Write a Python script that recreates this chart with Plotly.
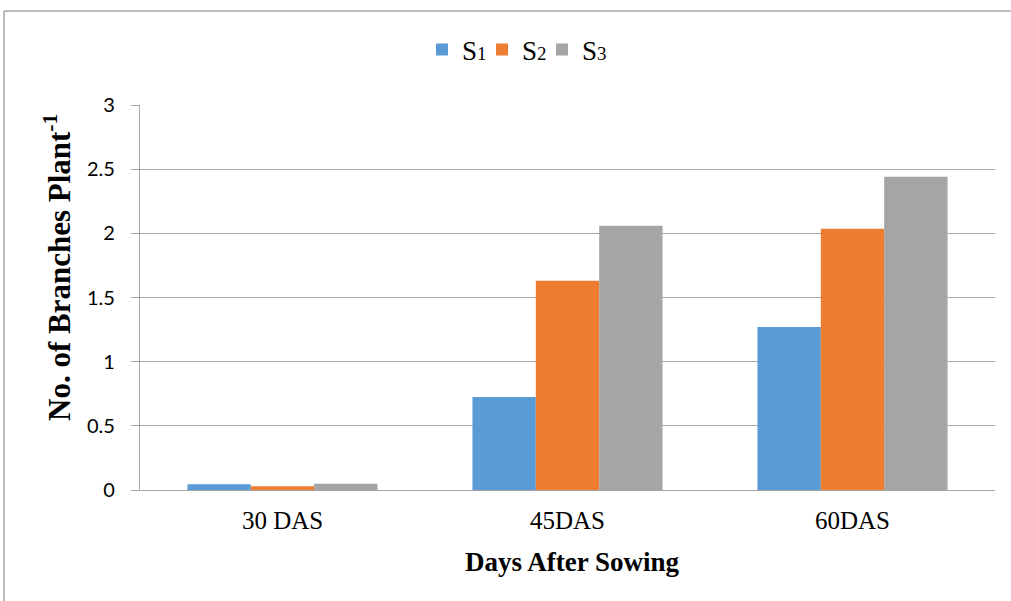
import plotly.graph_objects as go

categories = ["30 DAS", "45DAS", "60DAS"]
s1 = [0.045, 0.725, 1.27]
s2 = [0.03, 1.63, 2.035]
s3 = [0.048, 2.06, 2.44]
series_names = ["S<span style='font-size:19px'>1</span>",
                "S<span style='font-size:19px'>2</span>",
                "S<span style='font-size:19px'>3</span>"]
colors = ["#5b9bd5", "#ed7d31", "#a5a5a5"]
y_ticks = [0, 0.5, 1, 1.5, 2, 2.5, 3]
y_tick_labels = ["0", "0.5", "1", "1.5", "2", "2.5", "3"]
x_title = "<b>Days After Sowing</b>"
y_title = "<b>No. of Branches Plant<sup>-1</sup></b>"

L, R, T, B = 140, 16, 105, 111
W, H = 1011, 601
pw, ph = W - L - R, H - T - B

def px(x):
    return (x - L) / pw

def py(y):
    return (H - B - y) / ph

legend_ids = ["legend", "legend2", "legend3"]
legend_left_px = [422, 482, 542]

fig = go.Figure()
for name, vals, col, lid in zip(series_names, [s1, s2, s3], colors, legend_ids):
    fig.add_trace(go.Bar(x=categories, y=vals, name=name, marker_color=col,
                         marker_line_width=0, legend=lid, showlegend=True))

grid = "#a6a6a6"
legend_common = dict(orientation="h", xanchor="left", y=py(50), yanchor="middle",
                     font=dict(family="Liberation Serif", size=27, color="#000"),
                     itemwidth=30, bgcolor="rgba(0,0,0,0)")
legends = {}
for lid, lx in zip(legend_ids, legend_left_px):
    legends[lid] = dict(legend_common, x=px(lx))

fig.update_layout(
    width=W, height=H,
    margin=dict(l=L, r=R, t=T, b=B),
    paper_bgcolor="white", plot_bgcolor="white",
    showlegend=True,
    barmode="group", bargap=0.333, bargroupgap=0,
    **legends,
    xaxis=dict(tickfont=dict(family="Liberation Serif", size=25, color="#000"),
               showline=True, linecolor=grid, linewidth=1.3, ticks="",
               ticklabelstandoff=8),
    yaxis=dict(range=[0, 3], tickvals=y_ticks, ticktext=y_tick_labels,
               tickfont=dict(family="Lato", size=20, color="#000"),
               showgrid=True, gridcolor=grid, gridwidth=1.3,
               showline=True, linecolor=grid, linewidth=1.3,
               zeroline=False, ticks="outside", ticklen=8, tickcolor=grid, tickwidth=1.3,
               ticklabelstandoff=12),
    annotations=[
        dict(text=x_title, xref="paper", yref="paper", x=px(572), y=py(562),
             xanchor="center", yanchor="middle", showarrow=False,
             font=dict(family="Liberation Serif", size=27, color="#000")),
        dict(text=y_title, xref="paper", yref="paper", x=px(57), y=py(268),
             xanchor="center", yanchor="middle", showarrow=False, textangle=-90,
             font=dict(family="Liberation Serif", size=31, color="#000")),
    ],
    shapes=[
        dict(type="line", xref="paper", yref="paper", x0=px(4), y0=py(601), x1=px(4), y1=py(11),
             line=dict(color=grid, width=1.5)),
        dict(type="line", xref="paper", yref="paper", x0=px(4), y0=py(11), x1=px(1011), y1=py(11),
             line=dict(color=grid, width=1.5)),
    ],
)

fig.write_html("out.html", config={"displayModeBar": False},
               post_script="document.body.style.margin='0';")
